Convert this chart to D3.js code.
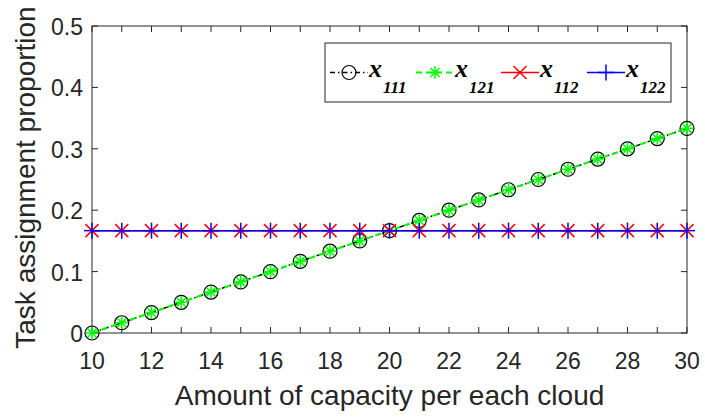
<!DOCTYPE html>
<html><head><meta charset="utf-8">
<script src="https://cdn.jsdelivr.net/npm/d3@7"></script>
<style>body{margin:0;background:#fff}svg{display:block}</style>
</head><body>
<script>
const capacity = [10,11,12,13,14,15,16,17,18,19,20,21,22,23,24,25,26,27,28,29,30];
const x111 = [0,0.0167,0.0333,0.05,0.0667,0.0833,0.1,0.1167,0.1333,0.15,0.1667,0.1833,0.2,0.2167,0.2333,0.25,0.2667,0.2833,0.3,0.3167,0.3333];
const x121 = [0,0.0167,0.0333,0.05,0.0667,0.0833,0.1,0.1167,0.1333,0.15,0.1667,0.1833,0.2,0.2167,0.2333,0.25,0.2667,0.2833,0.3,0.3167,0.3333];
const x112 = [0.1667,0.1667,0.1667,0.1667,0.1667,0.1667,0.1667,0.1667,0.1667,0.1667,0.1667,0.1667,0.1667,0.1667,0.1667,0.1667,0.1667,0.1667,0.1667,0.1667,0.1667];
const x122 = [0.1667,0.1667,0.1667,0.1667,0.1667,0.1667,0.1667,0.1667,0.1667,0.1667,0.1667,0.1667,0.1667,0.1667,0.1667,0.1667,0.1667,0.1667,0.1667,0.1667,0.1667];
const xTicks = [10,12,14,16,18,20,22,24,26,28,30];
const yTicks = [0,0.1,0.2,0.3,0.4,0.5];
const legendNames = ["111","121","112","122"];

const W=705,H=419, L=92,R=687,T=26,B=333;
const svg=d3.select("body").append("svg").attr("width",W).attr("height",H);
const x=d3.scaleLinear().domain([10,30]).range([L,R]);
const y=d3.scaleLinear().domain([0,0.5]).range([B,T]);
const ax="#262626";
const font="'Liberation Sans', Arial, sans-serif";

// box
svg.append("rect").attr("x",L).attr("y",T).attr("width",R-L).attr("height",B-T).attr("fill","#fff").attr("stroke",ax).attr("stroke-width",1);
const minor=d3.range(10,31,1);
const tl=6;
const g=svg.append("g").attr("stroke",ax).attr("stroke-width",1);
minor.forEach(v=>{
  g.append("line").attr("x1",x(v)).attr("x2",x(v)).attr("y1",B).attr("y2",B-tl);
  g.append("line").attr("x1",x(v)).attr("x2",x(v)).attr("y1",T).attr("y2",T+tl);
});
yTicks.forEach(v=>{
  g.append("line").attr("x1",L).attr("x2",L+tl).attr("y1",y(v)).attr("y2",y(v));
  g.append("line").attr("x1",R).attr("x2",R-tl).attr("y1",y(v)).attr("y2",y(v));
});
xTicks.forEach(v=>{
  svg.append("text").attr("x",x(v)).attr("y",369).attr("text-anchor","middle")
    .attr("font-family",font).attr("font-size",23).attr("fill",ax).text(v);
});
yTicks.forEach(v=>{
  svg.append("text").attr("x",L-9).attr("y",y(v)+9).attr("text-anchor","end")
    .attr("font-family",font).attr("font-size",23).attr("fill",ax).text(v===0?"0":v.toFixed(1));
});
svg.append("text").attr("x",(L+R)/2).attr("y",405).attr("text-anchor","middle")
  .attr("font-family",font).attr("font-size",28).attr("fill",ax).text("Amount of capacity per each cloud");
svg.append("text").attr("transform",`translate(35,177.5) rotate(-90)`).attr("text-anchor","middle")
  .attr("font-family",font).attr("font-size",28).attr("fill",ax).text("Task assignment proportion");

const series=[
  {vals:x111,color:"#000",dash:"5,3,1.5,3",width:1.5,marker:"o"},
  {vals:x121,color:"#00ff00",dash:"6,4",width:2,marker:"*"},
  {vals:x112,color:"#ff0000",dash:null,width:1.5,marker:"x"},
  {vals:x122,color:"#0000ff",dash:null,width:1.5,marker:"+"}
];
function drawMarker(sel,m,cx,cy,color){
  const s=6.3;
  if(m==="o"){sel.append("circle").attr("cx",cx).attr("cy",cy).attr("r",7).attr("fill","none").attr("stroke",color).attr("stroke-width",1.2);}
  else if(m==="*"){
    [[0,-s,0,s],[-s,0,s,0],[-s*0.72,-s*0.72,s*0.72,s*0.72],[-s*0.72,s*0.72,s*0.72,-s*0.72]].forEach(d=>
      sel.append("line").attr("x1",cx+d[0]).attr("y1",cy+d[1]).attr("x2",cx+d[2]).attr("y2",cy+d[3]).attr("stroke",color).attr("stroke-width",1.5));
  } else if(m==="x"){
    const q=6.5;
    [[-q,-q,q,q],[-q,q,q,-q]].forEach(d=>
      sel.append("line").attr("x1",cx+d[0]).attr("y1",cy+d[1]).attr("x2",cx+d[2]).attr("y2",cy+d[3]).attr("stroke",color).attr("stroke-width",1.5));
  } else {
    const p=8;
    [[0,-p,0,p],[-p,0,p,0]].forEach(d=>
      sel.append("line").attr("x1",cx+d[0]).attr("y1",cy+d[1]).attr("x2",cx+d[2]).attr("y2",cy+d[3]).attr("stroke",color).attr("stroke-width",1.5));
  }
}
const line=d3.line().x((d,i)=>x(capacity[i])).y(d=>y(d));
series.forEach(s=>{
  const p=svg.append("path").datum(s.vals).attr("d",line).attr("fill","none").attr("stroke",s.color).attr("stroke-width",s.width);
  if(s.dash)p.attr("stroke-dasharray",s.dash);
  const mg=svg.append("g");
  s.vals.forEach((v,i)=>drawMarker(mg,s.marker,x(capacity[i]),y(v),s.color));
});

// legend
const lg=svg.append("g");
lg.append("rect").attr("x",325).attr("y",43).attr("width",346).attr("height",59).attr("fill","#fff").attr("stroke",ax).attr("stroke-width",1);
const lx=[330,416,501,587];
series.forEach((s,i)=>{
  const x0=lx[i], ly=72.5;
  const p=lg.append("line").attr("x1",x0).attr("x2",x0+38).attr("y1",ly).attr("y2",ly).attr("stroke",s.color).attr("stroke-width",s.width);
  if(s.dash)p.attr("stroke-dasharray",s.dash);
  drawMarker(lg,s.marker,x0+19,ly,s.color);
  const t=lg.append("text").attr("x",x0+39).attr("y",77).attr("font-family","'Liberation Serif','Times New Roman',serif")
    .attr("font-style","italic").attr("font-weight","bold").attr("fill","#000").attr("font-size",26);
  t.append("tspan").text("x");
  t.append("tspan").attr("dx",1).attr("dy",16).attr("font-size",17).text(legendNames[i]);
});
</script>
</body></html>
